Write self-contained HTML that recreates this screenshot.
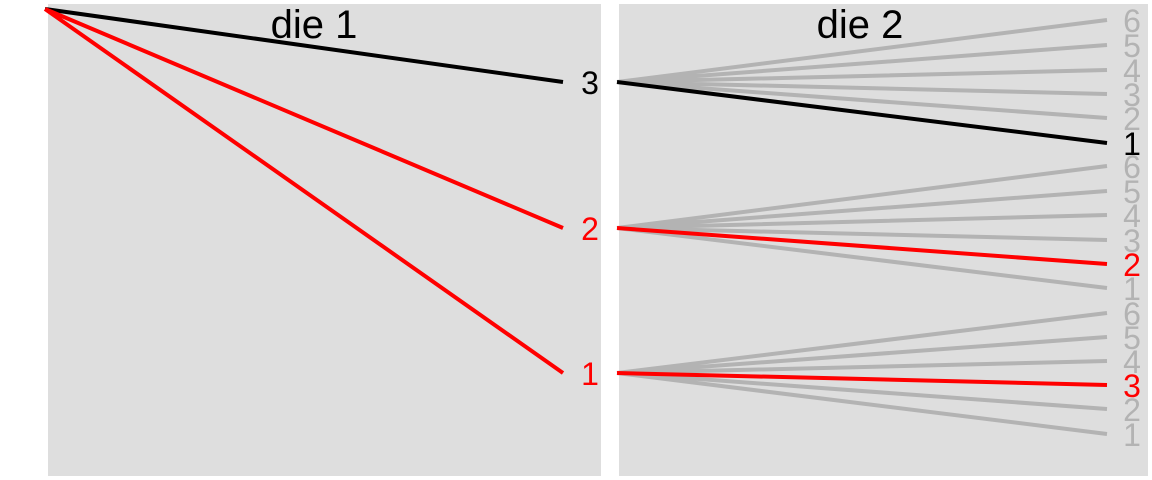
<!DOCTYPE html>
<html><head><style>body{margin:0;background:#fff}svg{display:block}</style></head><body>
<svg width="1152" height="480" xmlns="http://www.w3.org/2000/svg" font-family="Liberation Sans, sans-serif">
<rect x="48" y="4" width="553" height="472" fill="#dedede"/>
<rect x="619" y="4" width="529" height="472" fill="#dedede"/>
<text x="314" y="38" font-size="40" text-anchor="middle">die 1</text>
<text x="860" y="38" font-size="40" text-anchor="middle">die 2</text>
<g stroke="#b3b3b3" stroke-width="4" fill="none">
<path d="M617 82L1107 20M617 82L1107 45M617 82L1107 70M617 82L1107 94M617 82L1107 118"/>
<path d="M617 228L1107 166M617 228L1107 191M617 228L1107 215M617 228L1107 240M617 228L1107 288"/>
<path d="M617 373L1107 313M617 373L1107 337M617 373L1107 361M617 373L1107 409M617 373L1107 434"/>
</g>
<g stroke-width="4" fill="none">
<path d="M45 9L563 82M617 82L1107 143" stroke="#000"/>
<path d="M45 9L563 228M45 9L563 373M617 228L1107 264M617 373L1107 385" stroke="#f00"/>
</g>
<g font-size="32" text-anchor="middle">
<text x="590" y="94">3</text>
<text x="590" y="240" fill="#f00">2</text>
<text x="590" y="385" fill="#f00">1</text>
<g fill="#b3b3b3">
<text x="1132" y="32">6</text><text x="1132" y="57">5</text><text x="1132" y="82">4</text><text x="1132" y="106">3</text><text x="1132" y="130">2</text>
<text x="1132" y="178">6</text><text x="1132" y="203">5</text><text x="1132" y="227">4</text><text x="1132" y="252">3</text><text x="1132" y="300">1</text>
<text x="1132" y="325">6</text><text x="1132" y="349">5</text><text x="1132" y="373">4</text><text x="1132" y="421">2</text><text x="1132" y="446">1</text>
</g>
<text x="1132" y="155" fill="#000">1</text>
<text x="1132" y="276" fill="#f00">2</text>
<text x="1132" y="397" fill="#f00">3</text>
</g>
</svg>
</body></html>
